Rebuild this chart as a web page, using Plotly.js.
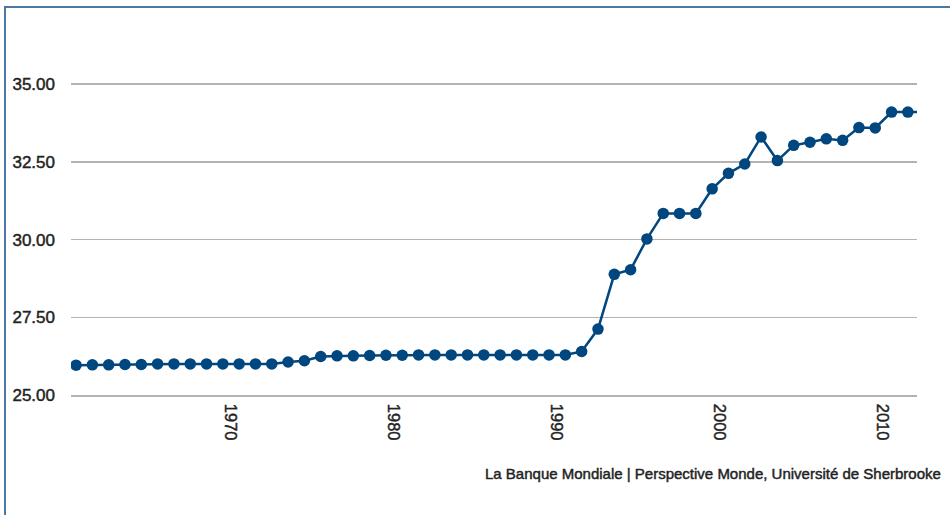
<!DOCTYPE html>
<html>
<head>
<meta charset="utf-8">
<script src="https://cdn.plot.ly/plotly-3.0.1.min.js"></script>
<style>
  html, body { margin: 0; padding: 0; width: 950px; height: 515px; overflow: hidden; background: #fff; }
  #frame { position: absolute; left: 4px; top: 6px; width: 1000px; height: 600px;
           border-left: 2px solid #4b79a3; border-top: 2px solid #4b79a3; }
  #chart { position: absolute; left: 0; top: 0; width: 950px; height: 515px; }
  #chart .xtick text, #chart .ytick text, #chart .annotation-text {
    stroke: #222; stroke-width: 0.45px; paint-order: stroke;
  }
</style>
</head>
<body>
<div id="frame"></div>
<div id="chart"></div>
<script>
const years = [
  1960,1961,1962,1963,1964,1965,1966,1967,1968,1969,
  1970,1971,1972,1973,1974,1975,1976,1977,1978,1979,
  1980,1981,1982,1983,1984,1985,1986,1987,1988,1989,
  1990,1991,1992,1993,1994,1995,1996,1997,1998,1999,
  2000,2001,2002,2003,2004,2005,2006,2007,2008,2009,
  2010,2011,2012
];
const values = [
  25.96,25.97,25.97,25.98,25.98,26.00,26.00,26.00,26.00,26.00,
  26.00,26.00,26.00,26.06,26.10,26.24,26.26,26.26,26.27,26.28,
  26.28,26.29,26.29,26.29,26.29,26.29,26.29,26.29,26.29,26.29,
  26.29,26.40,27.12,28.88,29.03,30.02,30.84,30.84,30.84,31.63,
  32.13,32.43,33.30,32.54,33.03,33.13,33.24,33.19,33.60,33.59,
  34.10,34.10,34.10
];
const tickYears = [1970, 1980, 1990, 2000, 2010];
const tickLabels = ["1970", "1980", "1990", "2000", "2010"];
const sourceText = "La Banque Mondiale | Perspective Monde, Université de Sherbrooke";

const trace = {
  x: years,
  y: values,
  type: "scatter",
  mode: "lines+markers",
  line: { color: "#00467f", width: 2.5 },
  marker: { color: "#00467f", size: 11.5 },
  hoverinfo: "x+y"
};

const layout = {
  width: 950,
  height: 515,
  margin: { l: 71, r: 33, t: 30, b: 120 },
  paper_bgcolor: "rgba(0,0,0,0)",
  plot_bgcolor: "rgba(0,0,0,0)",
  showlegend: false,
  font: { family: "Liberation Sans, Arial, sans-serif", color: "#222" },
  xaxis: {
    range: [1959.69, 2011.56],
    tickvals: tickYears,
    ticktext: tickLabels,
    tickangle: 90,
    ticklabelshift: -9,
    ticklabelstandoff: 4,
    showgrid: false,
    zeroline: false,
    showline: true,
    linecolor: "#b3b3b3",
    linewidth: 1.5,
    ticks: "",
    tickfont: { size: 16.5, color: "#222" }
  },
  yaxis: {
    range: [25, 36.74],
    tick0: 25,
    dtick: 2.5,
    tickformat: ".2f",
    showgrid: true,
    gridcolor: "#b3b3b3",
    gridwidth: 1.5,
    zeroline: false,
    showline: false,
    ticks: "",
    ticklabelstandoff: 15,
    tickfont: { size: 17, color: "#222" }
  },
  annotations: [{
    text: sourceText,
    xref: "paper", yref: "paper",
    x: 1.031, y: -0.215,
    xanchor: "right", yanchor: "middle",
    showarrow: false,
    font: { size: 15, color: "#222" }
  }]
};

Plotly.newPlot("chart", [trace], layout, { displayModeBar: false, staticPlot: true });
</script>
</body>
</html>
